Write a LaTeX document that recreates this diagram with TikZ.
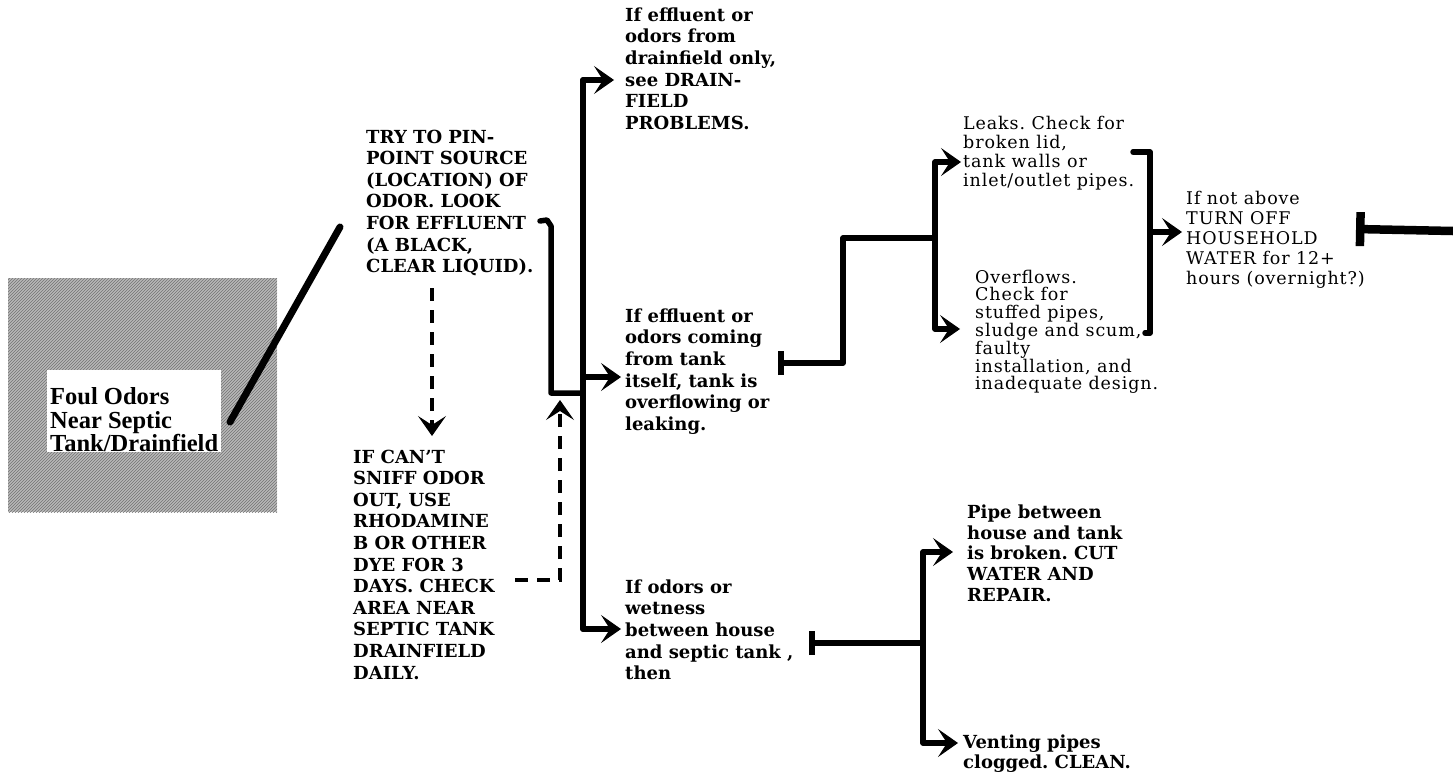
\documentclass[tikz,border=0pt]{standalone}
\usepackage{fontspec}
\setmainfont{DejaVu Serif}
\newfontfamily\lightfont{DejaVu Serif}[LetterSpace=5]
\newfontfamily\labelfont{Liberation Serif}
\usetikzlibrary{arrows.meta,patterns}
\frenchspacing
\begin{document}
\begin{tikzpicture}[x=1pt,y=-1pt,
  btxt/.style={anchor=north west, inner sep=0pt, align=left, font=\fontsize{18}{21.6}\selectfont\bfseries},
  ltxt/.style={anchor=north west, inner sep=0pt, align=left, font=\lightfont\fontsize{17.5}{19}\selectfont},
  conn/.style={line width=5.5pt, line join=round, line cap=round},
  arr/.style={-{Stealth[length=20pt,width=28pt,inset=9pt,line width=1pt]}},
  barstart/.style={{Bar[width=24pt]}-},
  dsh/.style={line width=4pt, dash pattern=on 13pt off 9pt}]
\useasboundingbox (0,0) rectangle (1453,774);
% gray textured backdrop
\fill[black!28] (8,278) rectangle (277,512);
\fill[pattern=north east lines, pattern color=black!55] (8,278) rectangle (277,512);
\node[fill=white, anchor=south west, inner xsep=3pt, inner ysep=0pt, align=left,
      font=\labelfont\bfseries\fontsize{24.5}{23.5}\selectfont] (foul) at (47,452)
      {\rule{0pt}{35pt}Foul Odors\\Near Septic\\Tank/Drainfield};
% text blocks
\node[btxt] (try) at (366,129.5) {TRY TO PIN-\\POINT SOURCE\\(LOCATION) OF\\ODOR. LOOK\\FOR EFFLUENT\\(A BLACK,\\CLEAR LIQUID).};
\node[btxt] (cant) at (353,449.5) {IF CAN’T\\SNIFF ODOR\\OUT, USE\\RHODAMINE\\B OR OTHER\\DYE FOR 3\\DAYS. CHECK\\AREA NEAR\\SEPTIC TANK\\DRAINFIELD\\DAILY.};
\node[btxt] (drain) at (625,7.5) {If effluent or\\odors from\\drainfield only,\\see DRAIN-\\FIELD\\PROBLEMS.};
\node[btxt] (tank) at (625,308.5) {If effluent or\\odors coming\\from tank\\itself, tank is\\overflowing or\\leaking.};
\node[btxt] (house) at (625,579.5) {If odors or\\wetness\\between house\\and septic tank ,\\then};
\node[ltxt] (leaks) at (963,115.5) {Leaks. Check for\\broken lid,\\tank walls or\\inlet/outlet pipes.};
\node[ltxt, font=\lightfont\fontsize{17.5}{17.8}\selectfont] (over) at (975,269.5) {Overflows.\\Check for\\stuffed pipes,\\sludge and scum,\\faulty\\installation, and\\inadequate design.};
\node[ltxt, font=\lightfont\fontsize{17.5}{20}\selectfont] (turn) at (1186,190.5) {If not above\\TURN OFF\\HOUSEHOLD\\WATER for 12+\\hours (overnight?)};
\node[btxt, font=\fontsize{18}{20.7}\selectfont\bfseries] (pipe) at (967,504.5) {Pipe between\\house and tank\\is broken. CUT\\WATER AND\\REPAIR.};
\node[btxt, font=\fontsize{18}{20}\selectfont\bfseries] (vent) at (963,734.5) {Venting pipes\\clogged. CLEAN.};
% connector coordinates
\coordinate (dA) at (230,422); \coordinate (dB) at (340,227);
\coordinate (hk) at (540,221); \coordinate (hk1) at (547,220); \coordinate (hk2) at (551,226); \coordinate (hkb) at (551,393);
\coordinate (j) at (583,393);
\coordinate (tTop) at (583,80); \coordinate (tMid) at (583,377); \coordinate (tBot) at (583,629);
\coordinate (a1) at (614,80); \coordinate (a2) at (621,377); \coordinate (a3) at (621,629);
\coordinate (dsA) at (515,580); \coordinate (dsB) at (560,580); \coordinate (dsC) at (560,400);
\coordinate (dvA) at (432,288); \coordinate (dvB) at (432,436);
\coordinate (tk0) at (778,363); \coordinate (tk1) at (843,363); \coordinate (tk2) at (843,238); \coordinate (tk3) at (935,238);
\coordinate (lkA) at (961,162); \coordinate (ovA) at (960,329);
\coordinate (brT) at (1133,152); \coordinate (brB) at (1145,333); \coordinate (brM) at (1150,232);
\coordinate (tuA) at (1182,232);
\coordinate (rT0) at (1356,229); \coordinate (rT1) at (1453,231);
\coordinate (hs0) at (809,643); \coordinate (hs1) at (923,643);
\coordinate (piA) at (953,552); \coordinate (veA) at (958,743);
% connectors
\draw[line width=7pt, line cap=round] (dA) -- (dB);
\draw[conn] (hk) -- (hk1) -- (hk2) -- (hkb) -- (j);
\draw[conn] (tTop) -- (tBot);
\draw[conn,arr] (tTop) -- (a1);
\draw[conn,arr] (tMid) -- (a2);
\draw[conn,arr] (tBot) -- (a3);
\draw[dsh,arr] (dsA) -- (dsB) -- (dsC);
\draw[dsh,arr] (dvA) -- (dvB);
\draw[conn,barstart] (tk0) -- (tk1) -- (tk2) -- (tk3);
\draw[conn,arr] (tk3) |- (lkA);
\draw[conn,arr] (tk3) |- (ovA);
\draw[conn] (brT) -- (brT -| brM) -- (brB -| brM) -- (brB);
\draw[conn,arr] (brM) -- (tuA);
\draw[line width=8.5pt, {Bar[width=34pt]}-] (rT0) -- (rT1);
\draw[conn,barstart] (hs0) -- (hs1);
\draw[conn,arr] (hs1) |- (piA);
\draw[conn,arr] (hs1) |- (veA);
\end{tikzpicture}
\end{document}
